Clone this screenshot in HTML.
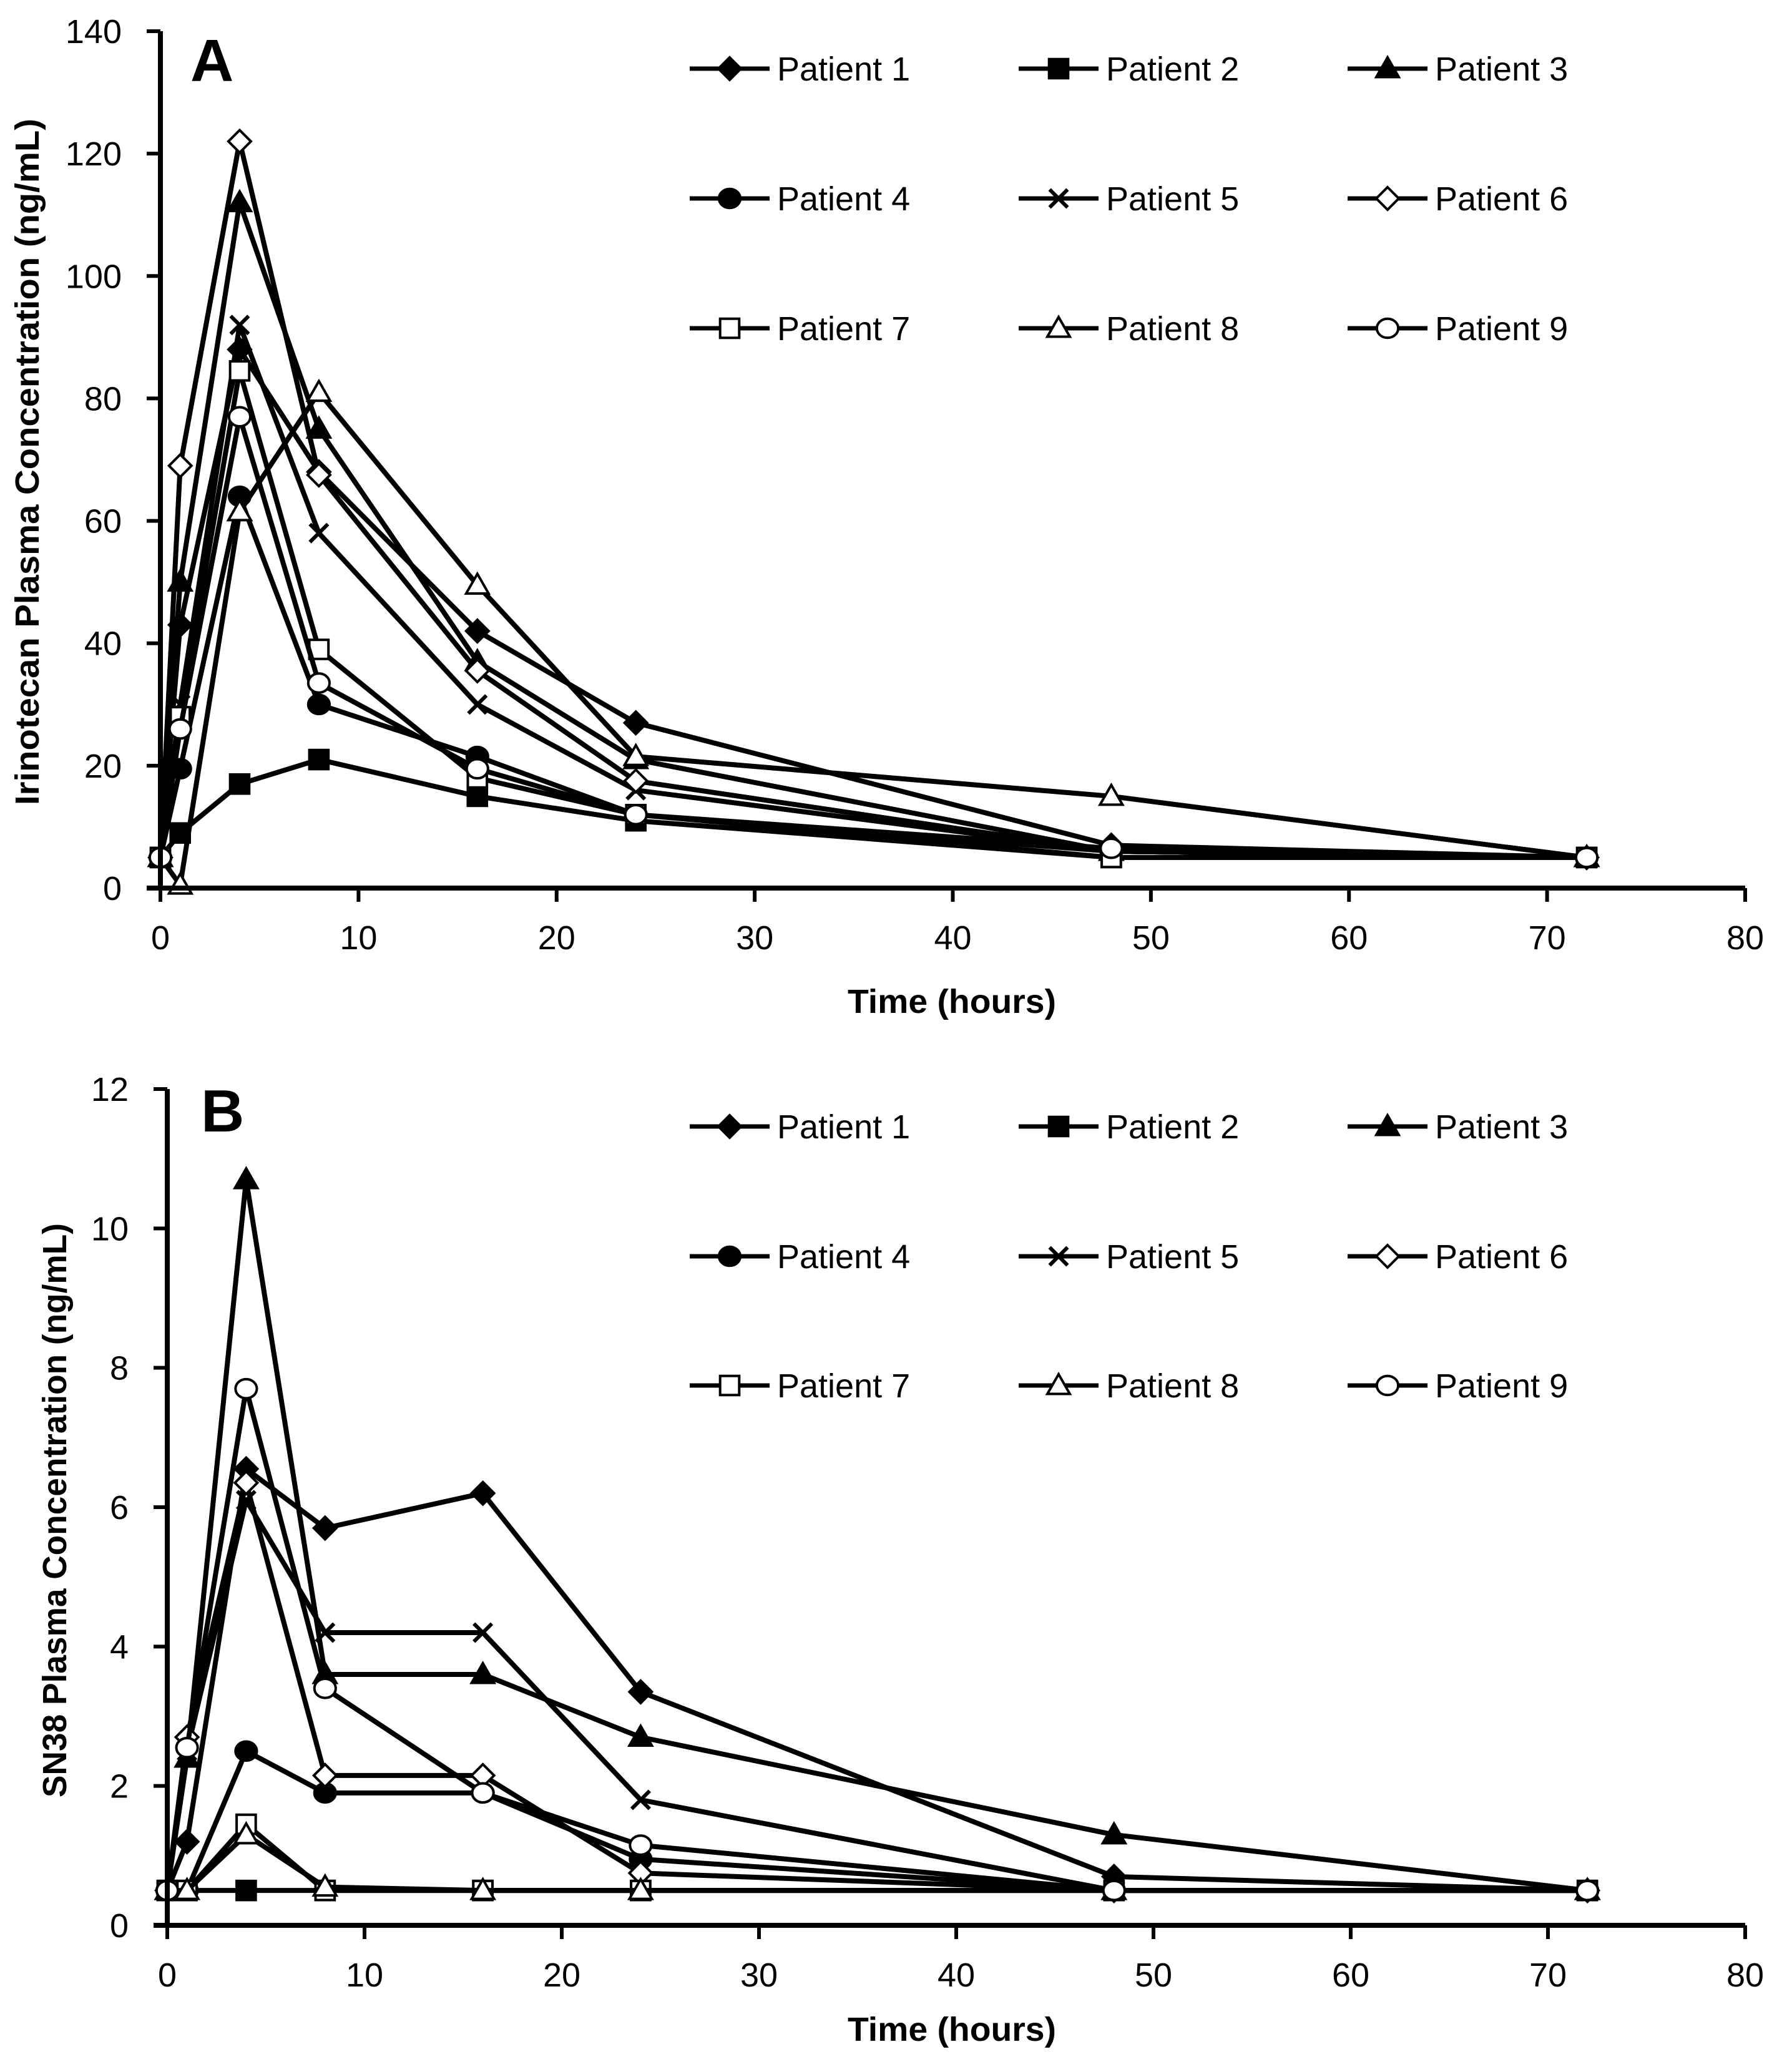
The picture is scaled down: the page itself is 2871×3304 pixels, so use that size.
<!DOCTYPE html>
<html><head><meta charset="utf-8"><style>
html,body{margin:0;padding:0;background:#fff;}
svg{display:block;}
text{font-family:"Liberation Sans",sans-serif;fill:#000;}
</style></head>
<body>
<svg id="fig" width="2871" height="3304" viewBox="0 0 2871 3304" xmlns="http://www.w3.org/2000/svg"></svg>
<script>
const times = [0, 1, 4, 8, 16, 24, 48, 72];
const patientNames = ["Patient 1","Patient 2","Patient 3","Patient 4","Patient 5","Patient 6","Patient 7","Patient 8","Patient 9"];
const xTicks = [0,10,20,30,40,50,60,70,80];
const yTicksA = [0,20,40,60,80,100,120,140];
const yTicksB = [0,2,4,6,8,10,12];
const irinoP1 = [5, 43, 88, 68, 42, 27, 7, 5];
const irinoP2 = [5, 9, 17, 21, 15, 11, 5, 5];
const irinoP3 = [5, 50, 112, 75, 37, 21, 6, 5];
const irinoP4 = [5, 19.5, 64, 30, 21.5, 12, 6, 5];
const irinoP5 = [5, 30, 92, 58, 30, 16, 6, 5];
const irinoP6 = [5, 69, 122, 67.5, 35.5, 17.5, 6, 5];
const irinoP7 = [5, 28, 84.5, 39, 18, 12, 5, 5];
const irinoP8 = [5, 0.5, 61.5, 81, 49.5, 21.5, 15, 5];
const irinoP9 = [5, 26, 77, 33.5, 19.5, 12, 6.5, 5];
const sn38P1 = [0.5, 1.2, 6.55, 5.7, 6.2, 3.35, 0.7, 0.5];
const sn38P2 = [0.5, 0.5, 0.5, 0.5, 0.5, 0.5, 0.5, 0.5];
const sn38P3 = [0.5, 2.4, 10.7, 3.6, 3.6, 2.7, 1.3, 0.5];
const sn38P4 = [0.5, 0.5, 2.5, 1.9, 1.9, 0.95, 0.5, 0.5];
const sn38P5 = [0.5, 2.5, 6.1, 4.2, 4.2, 1.8, 0.5, 0.5];
const sn38P6 = [0.5, 2.7, 6.35, 2.15, 2.15, 0.75, 0.5, 0.5];
const sn38P7 = [0.5, 0.5, 1.45, 0.5, 0.5, 0.5, 0.5, 0.5];
const sn38P8 = [0.5, 0.5, 1.3, 0.55, 0.5, 0.5, 0.5, 0.5];
const sn38P9 = [0.5, 2.55, 7.7, 3.4, 1.9, 1.15, 0.5, 0.5];
const markers = ["diamond-f","square-f","triangle-f","circle-f","x","diamond-o","square-o","triangle-o","circle-o"];

const NS = "http://www.w3.org/2000/svg";
const svg = document.getElementById("fig");
function el(tag, attrs, parent){const e=document.createElementNS(NS,tag);for(const k in attrs)e.setAttribute(k,attrs[k]);(parent||svg).appendChild(e);return e;}

function marker(g, type, cx, cy, s){
  const fill = type.endsWith("-f") ? "#000" : "#fff";
  let m;
  if(type.startsWith("diamond")) m = el("polygon",{points:`${cx},${cy-s} ${cx+s},${cy} ${cx},${cy+s} ${cx-s},${cy}`,fill:fill,stroke:"#000","stroke-width":4},g);
  else if(type.startsWith("square")) m = el("rect",{x:cx-s*0.85,y:cy-s*0.85,width:s*1.7,height:s*1.7,fill:fill,stroke:"#000","stroke-width":4},g);
  else if(type.startsWith("triangle")) m = el("polygon",{points:`${cx},${cy-s} ${cx+s},${cy+s*0.75} ${cx-s},${cy+s*0.75}`,fill:fill,stroke:"#000","stroke-width":4},g);
  else if(type.startsWith("circle")) m = el("ellipse",{cx:cx,cy:cy,rx:s*0.95,ry:s*0.85,fill:fill,stroke:"#000","stroke-width":4},g);
  else { m = el("path",{d:`M${cx-s*0.8},${cy-s*0.8}L${cx+s*0.8},${cy+s*0.8}M${cx+s*0.8},${cy-s*0.8}L${cx-s*0.8},${cy+s*0.8}`,stroke:"#000","stroke-width":6,fill:"none"},g); }
  
  
  return m;
}

function panel(cfg){
  const g = el("g",{});
  
  
  const xs = v => cfg.x0 + (v/80)*(cfg.x80-cfg.x0);
  const ys = v => cfg.y0 - (v/cfg.ymax)*(cfg.y0-cfg.ytop);
  cfg.series.forEach((vals,i)=>{
    const sg = el("g",{},g);
    
    
    const pts = vals.map((v,j)=>xs(times[j])+","+ys(v)).join(" ");
    const pl = el("polyline",{points:pts,fill:"none",stroke:"#000","stroke-width":8,"stroke-linejoin":"round"},sg);
    
    
    vals.forEach((v,j)=>marker(sg, markers[i], xs(times[j]), ys(v), 18));
  });
  const ax = el("path",{d:`M${cfg.x0},${cfg.ytop}V${cfg.y0}M${cfg.x0-22},${cfg.y0}H${cfg.x80}`,stroke:"#000","stroke-width":8,fill:"none"},g);
   
  cfg.yTicks.forEach(t=>{
    el("line",{x1:cfg.x0-22,x2:cfg.x0,y1:ys(t),y2:ys(t),stroke:"#000","stroke-width":6},g);
    const tx = el("text",{x:cfg.x0-62,y:ys(t)+19,"text-anchor":"end","font-size":54},g);
    tx.textContent = t;
     
  });
  xTicks.forEach(t=>{
    el("line",{x1:xs(t),x2:xs(t),y1:cfg.y0,y2:cfg.y0+22,stroke:"#000","stroke-width":6},g);
    const tx = el("text",{x:xs(t),y:cfg.y0+98,"text-anchor":"middle","font-size":54},g);
    tx.textContent = t;
     
  });
  const xt = el("text",{x:1525,y:cfg.y0+cfg.xtOff,"text-anchor":"middle","font-size":54,"font-weight":"bold",textLength:334,lengthAdjust:"spacingAndGlyphs"},g);
  xt.textContent = "Time (hours)";
   
  const yt = el("text",{x:0,y:0,"text-anchor":"middle","font-size":54,"font-weight":"600",transform:`translate(${cfg.ytx},${cfg.yty}) rotate(-90)`,textLength:cfg.ytLen,lengthAdjust:"spacingAndGlyphs"},g);
  yt.textContent = cfg.ytitle;
   
  const pl = el("text",{x:cfg.lx,y:cfg.ly,"font-size":96,"font-weight":"bold"},g);
  pl.textContent = cfg.label;
   
  patientNames.forEach((n,i)=>{
    const col=i%3,row=Math.floor(i/3);
    const mx = 1169 + col*527, y = cfg.legRows[row];
    const lg = el("g",{},g);
     
    el("line",{x1:mx-64,x2:mx+64,y1:y,y2:y,stroke:"#000","stroke-width":7},lg);
    marker(lg, markers[i], mx, y, 18);
    const t = el("text",{x:mx+76,y:y+19,"font-size":54},lg);
    t.textContent = n;
  });
}

panel({name:"panel-a-irinotecan",x0:257,x80:2796,y0:1423,ytop:50,ymax:140,yTicks:yTicksA,
  series:[irinoP1,irinoP2,irinoP3,irinoP4,irinoP5,irinoP6,irinoP7,irinoP8,irinoP9],
  ytitle:"Irinotecan Plasma Concentration (ng/mL)",ytx:62,yty:740,ytLen:1100,label:"A",lx:305,ly:130,
  legRows:[110,318,526],xtOff:200});
panel({name:"panel-b-sn38",x0:268,x80:2796,y0:3085,ytop:1745,ymax:12,yTicks:yTicksB,
  series:[sn38P1,sn38P2,sn38P3,sn38P4,sn38P5,sn38P6,sn38P7,sn38P8,sn38P9],
  ytitle:"SN38 Plasma Concentration (ng/mL)",ytx:106,yty:2420,ytLen:920,label:"B",lx:322,ly:1813,
  legRows:[1805,2013,2220],xtOff:185});
</script>
</body></html>
